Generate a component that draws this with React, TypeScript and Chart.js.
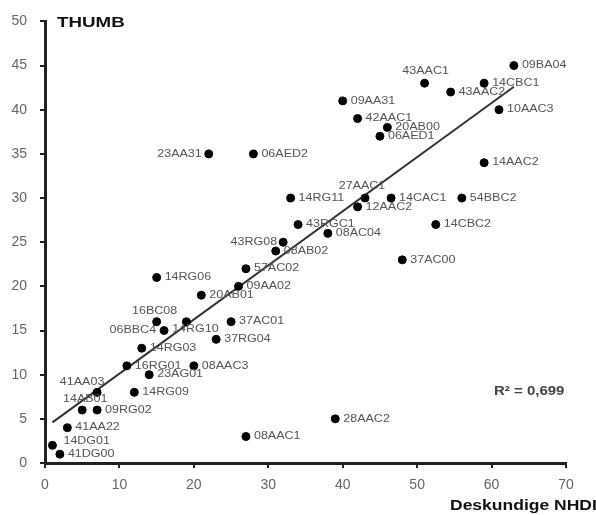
import React, { useEffect, useRef } from "react";
import { Chart, registerables } from "chart.js";

Chart.register(...registerables);

const names = [
  "09BA04", "43AAC1", "14CBC1", "43AAC2", "09AA31", "10AAC3", "42AAC1", "20AB00", "06AED1", "14AAC2",
  "23AA31", "06AED2", "14RG11", "27AAC1", "14CAC1", "54BBC2", "12AAC2", "43RGC1", "14CBC2", "08AC04",
  "37AC00", "43RG08", "08AB02", "57AC02", "14RG06", "09AA02", "20AB01", "16BC08", "14RG10", "37AC01",
  "06BBC4", "37RG04", "14RG03", "16RG01", "08AAC3", "23AG01", "41AA03", "14RG09", "14AB01", "09RG02",
  "41AA22", "14DG01", "41DG00", "08AAC1", "28AAC2",
];
const nhdValues = [
  63, 51, 59, 54.5, 40, 61, 42, 46, 45, 59,
  22, 28, 33, 43, 46.5, 56, 42, 34, 52.5, 38,
  48, 32, 31, 27, 15, 26, 21, 15, 19, 25,
  16, 23, 13, 11, 20, 14, 7, 12, 5, 7,
  3, 1, 2, 27, 39,
];
const thumbValues = [
  45, 43, 43, 42, 41, 40, 39, 38, 37, 34,
  35, 35, 30, 30, 30, 30, 29, 27, 27, 26,
  23, 25, 24, 22, 21, 20, 19, 16, 16, 16,
  15, 14, 13, 11, 11, 10, 8, 8, 6, 6,
  4, 2, 1, 3, 5,
];
const trendX = [1, 63];
const trendY = [4.6, 42.6];
const xTicks = [0, 10, 20, 30, 40, 50, 60, 70];
const yTicks = [0, 5, 10, 15, 20, 25, 30, 35, 40, 45, 50];
const yTitle = "THUMB";
const xTitle = "Deskundige NHDI";
const rSquared = "R² = 0,699";

// label placement (style): [dx, dy, align]
const placement: Record<string, [number, number, CanvasTextAlign]> = {
  "43AAC1": [1, -12, "center"],
  "27AAC1": [-3, -12, "center"],
  "16BC08": [-2, -10, "center"],
  "41AA03": [-15, -10, "center"],
  "14AB01": [3, -11, "center"],
  "23AA31": [-7, 0, "right"],
  "43RG08": [-6, 0, "right"],
  "06BBC4": [-8, 0, "right"],
  "14RG10": [9, 8, "center"],
  "14DG01": [11, -4, "left"],
};

const STRETCH = 1.25;

function stretchedText(
  ctx: CanvasRenderingContext2D,
  text: string,
  x: number,
  y: number,
  align: CanvasTextAlign,
  font: string,
  color: string
) {
  ctx.save();
  ctx.font = font;
  ctx.fillStyle = color;
  ctx.textBaseline = "middle";
  ctx.textAlign = align;
  ctx.translate(x, y);
  ctx.scale(STRETCH, 1);
  ctx.fillText(text, 0, 0);
  ctx.restore();
}

const labelPlugin = {
  id: "pointLabels",
  afterDatasetsDraw(chart: any) {
    const ctx: CanvasRenderingContext2D = chart.ctx;
    const xs = chart.scales.x;
    const ys = chart.scales.y;
    names.forEach((n, i) => {
      const px = xs.getPixelForValue(nhdValues[i]);
      const py = ys.getPixelForValue(thumbValues[i]);
      const p = placement[n] || [8, 0, "left"];
      stretchedText(ctx, n, px + p[0], py + p[1], p[2], "10px 'Liberation Sans', Arial, sans-serif", "#555");
    });
    stretchedText(ctx, yTitle, 57, 23, "left", "bold 15px 'Liberation Sans', Arial, sans-serif", "#111");
    stretchedText(ctx, rSquared, 494, 392, "left", "bold 12px 'Liberation Sans', Arial, sans-serif", "#444");
    stretchedText(ctx, xTitle, 450, 506, "left", "bold 14px 'Liberation Sans', Arial, sans-serif", "#111");
  },
};

export default function App() {
  const ref = useRef<HTMLCanvasElement | null>(null);
  useEffect(() => {
    document.body.style.margin = "0";
    if (!ref.current) return;
    const chart = new Chart(ref.current, {
      type: "scatter",
      data: {
        datasets: [
          {
            label: "points",
            data: nhdValues.map((x, i) => ({ x, y: thumbValues[i] })),
            backgroundColor: "#000",
            borderColor: "#000",
            pointRadius: 4,
            pointHoverRadius: 4,
          },
          {
            label: "trend",
            type: "line",
            data: trendX.map((x, i) => ({ x, y: trendY[i] })),
            borderColor: "#333",
            borderWidth: 2,
            pointRadius: 0,
            showLine: true,
            fill: false,
          } as any,
        ],
      },
      options: {
        responsive: false,
        animation: false,
        layout: { padding: { left: 0, right: 30, top: 20, bottom: 0 } },
        plugins: { legend: { display: false }, tooltip: { enabled: false } },
        scales: {
          x: {
            type: "linear",
            min: 0,
            max: 70,
            afterFit: (s: any) => {
              s.height = 52;
            },
            afterBuildTicks: (s: any) => {
              s.ticks = xTicks.map((v) => ({ value: v }));
            },
            ticks: {
              color: "#666",
              font: { size: 14, family: "'Liberation Sans', Arial, sans-serif" },
              padding: 9,
              maxRotation: 0,
            },
            grid: { display: true, drawOnChartArea: false, drawTicks: true, tickLength: 5, color: "#222", lineWidth: 2 },
            border: { display: true, width: 3, color: "#222" },
          },
          y: {
            type: "linear",
            min: 0,
            max: 50,
            afterFit: (s: any) => {
              s.width = 45;
            },
            afterBuildTicks: (s: any) => {
              s.ticks = yTicks.map((v) => ({ value: v }));
            },
            ticks: {
              color: "#666",
              font: { size: 14, family: "'Liberation Sans', Arial, sans-serif" },
              padding: 13,
            },
            grid: { display: true, drawOnChartArea: false, drawTicks: true, tickLength: 5, color: "#222", lineWidth: 2 },
            border: { display: true, width: 3, color: "#222" },
          },
        },
      },
      plugins: [labelPlugin],
    });
    return () => chart.destroy();
  }, []);
  return (
    <div style={{ width: 596, height: 515, background: "#fff" }}>
      <canvas ref={ref} width={596} height={515} style={{ display: "block" }} />
    </div>
  );
}
